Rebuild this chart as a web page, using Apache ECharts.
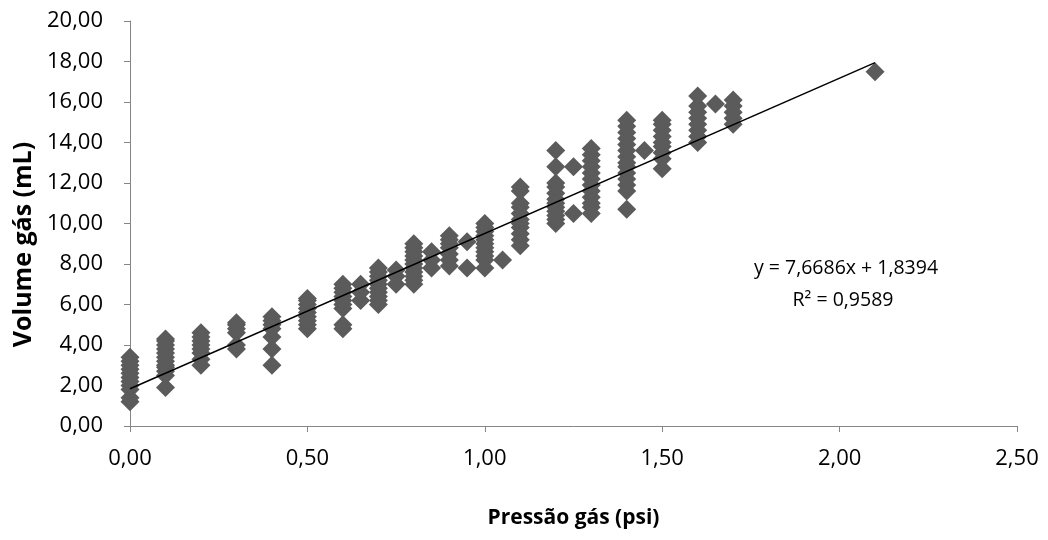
<!DOCTYPE html>
<html>
<head>
<meta charset="utf-8">
<title>Volume gás x Pressão gás</title>
<script src="https://cdn.jsdelivr.net/npm/echarts@6/dist/echarts.min.js"></script>
<style>
    html, body { margin: 0; padding: 0; background: #fff; }
    #myChart { width: 1048px; height: 540px; }
</style>
</head>
<body>
<div id="myChart"></div>
<script>
    // pressão (psi) de cada grupo e os volumes lidos em cada um
    var pressoes = [0, 0.1, 0.2, 0.3, 0.4, 0.5, 0.6, 0.65, 0.7, 0.75, 0.8, 0.85, 0.9, 0.95,
                    1.0, 1.05, 1.1, 1.2, 1.25, 1.3, 1.4, 1.45, 1.5, 1.6, 1.65, 1.7, 2.1];
    var volumes = [
        [1.2, 1.4, 1.8, 2.0, 2.2, 2.4, 2.6, 2.8, 3.0, 3.2, 3.4],
        [1.9, 2.5, 2.7, 2.9, 3.0, 3.2, 3.4, 3.6, 3.8, 4.0, 4.2, 4.3],
        [3.0, 3.3, 3.6, 3.8, 4.0, 4.2, 4.4, 4.6],
        [3.8, 4.0, 4.6, 4.8, 5.0, 5.1],
        [3.0, 3.8, 4.4, 4.8, 5.0, 5.2, 5.4],
        [4.8, 5.0, 5.2, 5.4, 5.6, 5.8, 6.0, 6.2, 6.3],
        [4.8, 5.0, 5.8, 6.0, 6.2, 6.4, 6.6, 6.8, 7.0],
        [6.2, 6.6, 7.0],
        [6.0, 6.2, 6.4, 6.6, 6.8, 7.0, 7.2, 7.4, 7.6, 7.8],
        [7.0, 7.4, 7.7],
        [7.0, 7.2, 7.4, 7.6, 7.8, 8.0, 8.2, 8.4, 8.6, 8.8, 9.0],
        [7.8, 8.2, 8.6],
        [7.9, 8.2, 8.5, 8.8, 9.0, 9.2, 9.4],
        [7.8, 9.1],
        [7.8, 8.2, 8.4, 8.6, 8.8, 9.0, 9.2, 9.4, 9.6, 9.8, 10.0],
        [8.2],
        [8.9, 9.2, 9.5, 9.8, 10.0, 10.2, 10.5, 10.8, 11.0, 11.6, 11.8],
        [10.0, 10.2, 10.4, 10.6, 10.8, 11.0, 11.2, 11.5, 11.8, 12.0, 12.8, 13.6],
        [10.5, 12.8],
        [10.5, 10.8, 11.0, 11.3, 11.6, 11.9, 12.2, 12.5, 12.8, 13.1, 13.4, 13.7],
        [10.7, 11.6, 11.9, 12.2, 12.5, 12.8, 13.0, 13.3, 13.6, 13.9, 14.2, 14.5, 14.8, 15.1],
        [13.6],
        [12.7, 13.2, 13.5, 13.8, 14.0, 14.3, 14.6, 14.9, 15.1],
        [14.0, 14.3, 14.6, 14.9, 15.2, 15.5, 15.8, 16.3],
        [15.9],
        [14.9, 15.2, 15.5, 15.8, 16.1],
        [17.5]
    ];

    // linha de tendência (da equação mostrada no gráfico)
    var inclinacao = 7.6686;
    var intercepto = 1.8394;
    var tendenciaX = [0, 2.1];
    var textoEquacao = 'y = 7,6686x + 1,8394';
    var textoR2 = 'R² = 0,9589';

    var myChart = echarts.init(document.getElementById('myChart'));

    function virgula(v) {
        return v.toFixed(2).replace('.', ',');
    }

    var pontos = [];
    for (var i = 0; i < pressoes.length; i++) {
        for (var j = 0; j < volumes[i].length; j++) {
            pontos.push([pressoes[i], volumes[i][j]]);
        }
    }
    var tendencia = tendenciaX.map(function (x) {
        return [x, inclinacao * x + intercepto];
    });

    var fonte = '"Open Sans", sans-serif';

    var option = {
        animation: false,
        backgroundColor: '#fff',
        grid: { left: 130, right: 31, top: 21, bottom: 114 },
        xAxis: {
            type: 'value',
            min: 0,
            max: 2.5,
            interval: 0.5,
            name: 'Pressão gás (psi)',
            nameLocation: 'middle',
            nameGap: 82,
            nameTextStyle: { fontFamily: fonte, fontSize: 21, fontWeight: 'bold', color: '#000' },
            axisLine: { lineStyle: { color: '#868686', width: 1 } },
            axisTick: { show: true, length: 6, lineStyle: { color: '#868686' } },
            splitLine: { show: false },
            axisLabel: {
                margin: 22,
                fontFamily: fonte,
                fontSize: 22,
                color: '#000',
                formatter: virgula
            }
        },
        yAxis: {
            type: 'value',
            min: 0,
            max: 20,
            interval: 2,
            name: 'Volume gás (mL)',
            nameLocation: 'middle',
            nameGap: 85,
            nameRotate: 90,
            // desloca o título um pouco para baixo, como no original
            nameTextStyle: { fontFamily: fonte, fontSize: 25, fontWeight: 'bold', color: '#000', padding: [0, 42, 0, 0] },
            axisLine: { show: true, lineStyle: { color: '#868686', width: 1 } },
            axisTick: { show: true, length: 6, lineStyle: { color: '#868686' } },
            splitLine: { show: false },
            axisLabel: {
                margin: 27,
                fontFamily: fonte,
                fontSize: 22,
                color: '#000',
                formatter: virgula
            }
        },
        series: [
            {
                type: 'scatter',
                symbol: 'diamond',
                symbolSize: 19,
                itemStyle: { color: '#5b5b5b', opacity: 1 },
                data: pontos,
                z: 2
            },
            {
                type: 'line',
                data: tendencia,
                symbol: 'none',
                lineStyle: { color: '#000', width: 1.5 },
                z: 3
            }
        ],
        graphic: [
            {
                type: 'text',
                x: 846,
                y: 268,
                style: { text: textoEquacao, align: 'center', verticalAlign: 'middle', fill: '#000', fontFamily: fonte, fontSize: 19.5 }
            },
            {
                type: 'text',
                x: 843,
                y: 300,
                style: { text: textoR2, align: 'center', verticalAlign: 'middle', fill: '#000', fontFamily: fonte, fontSize: 19.5 }
            }
        ]
    };

    myChart.setOption(option);
</script>
</body>
</html>
